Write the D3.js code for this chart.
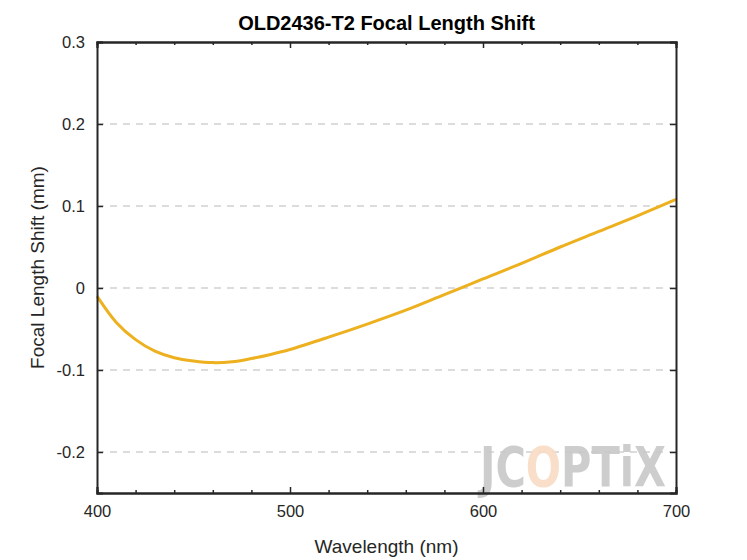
<!DOCTYPE html>
<html><head><meta charset="utf-8">
<script src="https://cdn.jsdelivr.net/npm/d3@7"></script>
<style>body{margin:0;background:#fff}</style></head>
<body><div id="chart"></div>
<script>
var wavelength = [400, 410, 420, 430, 440, 450, 460, 470, 480, 490, 500, 520, 540, 560, 580, 600, 620, 640, 660, 680, 700];
var shift = [-0.010, -0.042, -0.063, -0.077, -0.085, -0.089, -0.091, -0.090, -0.086, -0.081, -0.075, -0.060, -0.044, -0.027, -0.008, 0.011, 0.030, 0.050, 0.069, 0.088, 0.108];
var xTicks = [400, 500, 600, 700];
var yTicks = [-0.2, -0.1, 0, 0.1, 0.2, 0.3];

var w = 747, h = 560;
var pLeft = 97, pRight = 676, pTop = 42, pBottom = 493;

var svg = d3.select("#chart").append("svg").attr("width", w).attr("height", h)
  .style("font-family", "Arial, 'Liberation Sans', sans-serif");

var x = d3.scaleLinear().domain([400, 700]).range([pLeft, pRight]);
var y = d3.scaleLinear().domain([-0.25, 0.3]).range([pBottom, pTop]);

// grid
svg.selectAll(".grid").data(yTicks.filter(function(d) { return d < 0.3; })).enter()
  .append("line")
  .attr("x1", pLeft).attr("x2", pRight)
  .attr("y1", function(d) { return y(d); }).attr("y2", function(d) { return y(d); })
  .attr("stroke", "#dcdcdc").attr("stroke-width", 2).attr("stroke-dasharray", "7,6");

// watermark
var wm = svg.append("text").attr("x", 480).attr("y", 486)
  .attr("font-family", "'DejaVu Sans Condensed', 'DejaVu Sans'").attr("font-weight", "bold")
  .attr("font-size", 56).attr("textLength", 186).attr("lengthAdjust", "spacingAndGlyphs")
  .attr("fill", "#c8c8c8").attr("fill-opacity", 0.9);
wm.append("tspan").text("JC");
wm.append("tspan").attr("fill", "#f8dcc4").text("O");
wm.append("tspan").text("PTiX");

// line
var line = d3.line().curve(d3.curveCatmullRom)
  .x(function(d, i) { return x(wavelength[i]); })
  .y(function(d) { return y(d); });
svg.append("path").datum(shift).attr("d", line)
  .attr("fill", "none").attr("stroke", "#edb120").attr("stroke-width", 3);

// axes
var minor = d3.range(420, 700, 20).filter(function(d) { return d % 100 !== 0; });
svg.append("g").attr("transform", "translate(0," + pBottom + ")")
  .call(d3.axisBottom(x).tickValues(xTicks).tickSize(-6).tickPadding(12).tickFormat(d3.format("d")));
svg.append("g").attr("transform", "translate(0," + pBottom + ")")
  .call(d3.axisBottom(x).tickValues(minor).tickSize(-3).tickFormat(""));
svg.append("g").attr("transform", "translate(0," + pTop + ")")
  .call(d3.axisTop(x).tickValues(xTicks).tickSize(-6).tickFormat(""));
svg.append("g").attr("transform", "translate(0," + pTop + ")")
  .call(d3.axisTop(x).tickValues(minor).tickSize(-3).tickFormat(""));
svg.append("g").attr("transform", "translate(" + pLeft + ",0)")
  .call(d3.axisLeft(y).tickValues(yTicks).tickSize(-6).tickPadding(12)
    .tickFormat(function(d) { return d === 0 ? "0" : d3.format(".1f")(d).replace("\u2212", "-"); }));
svg.append("g").attr("transform", "translate(" + pRight + ",0)")
  .call(d3.axisRight(y).tickValues(yTicks).tickSize(-6).tickFormat(""));

svg.selectAll(".domain").attr("stroke", "#262626").attr("stroke-width", 2);
svg.selectAll(".tick line").attr("stroke", "#262626").attr("stroke-width", 1.5);
svg.selectAll(".tick text").attr("font-size", 16.5).attr("fill", "#262626")
  .style("font-family", "Arial, 'Liberation Sans', sans-serif");

svg.append("text").attr("x", (pLeft + pRight) / 2).attr("y", 30).attr("text-anchor", "middle")
  .attr("font-size", 20).attr("font-weight", "bold").attr("fill", "#000").text("OLD2436-T2 Focal Length Shift");
svg.append("text").attr("x", (pLeft + pRight) / 2).attr("y", 553).attr("text-anchor", "middle")
  .attr("font-size", 19).attr("fill", "#262626").text("Wavelength (nm)");
svg.append("text").attr("transform", "translate(44," + ((pTop + pBottom) / 2) + ") rotate(-90)")
  .attr("text-anchor", "middle").attr("font-size", 19).attr("fill", "#262626").text("Focal Length Shift (mm)");
</script></body></html>
